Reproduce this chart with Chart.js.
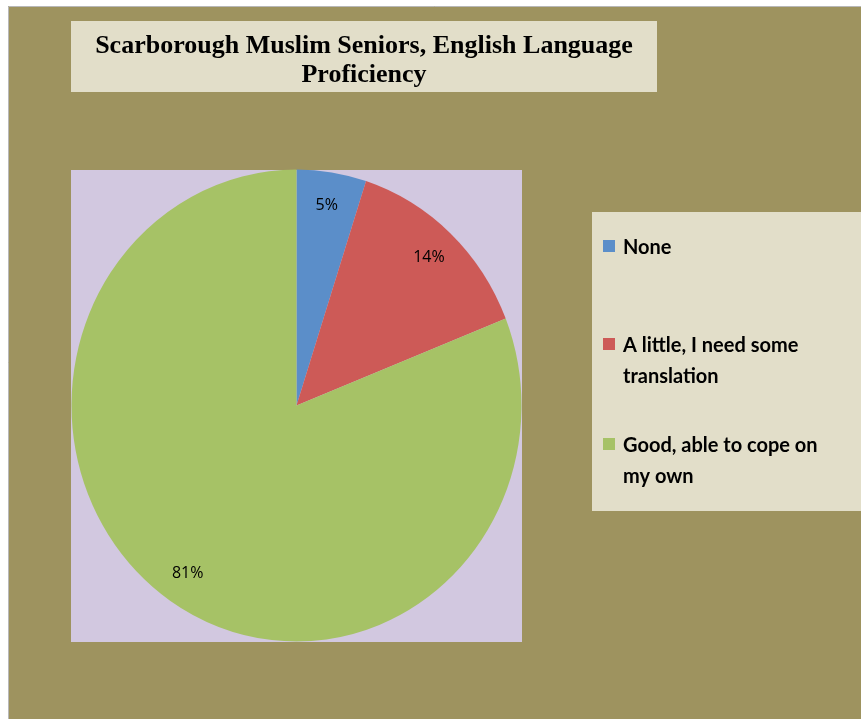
<!DOCTYPE html>
<html>
<head>
<meta charset="utf-8">
<script src="https://cdn.jsdelivr.net/npm/chart.js@4.4.1/dist/chart.umd.min.js"></script>
<style>
  html, body { margin: 0; padding: 0; background: #fff; }
  #wrap { width: 861px; height: 719px; }
</style>
</head>
<body>
<div id="wrap"><canvas id="pie" width="861" height="719"></canvas></div>
<script>
const titleLines = ["Scarborough Muslim Seniors, English Language", "Proficiency"];
const categories = ["None", "A little, I need some translation", "Good, able to cope on my own"];
const legendLines = [["None"], ["A little, I need some", "translation"], ["Good, able to cope on", "my own"]];
const shares = [5, 14, 81];
const sliceColors = ["#5b8ec9", "#cd5a57", "#a6c266"];

// the original pie is a little taller than wide
const stretchY = 236 / 225;

// boxes behind everything (frame, title, plot area, legend)
const backdrop = {
  id: "backdrop",
  beforeDraw(chart) {
    const c = chart.ctx;
    c.save();
    c.fillStyle = "#ffffff";
    c.fillRect(0, 0, 861, 719);
    c.fillStyle = "#9e935f";
    c.fillRect(8, 6, 853, 713);
    c.strokeStyle = "#b8b8b8";
    c.lineWidth = 1;
    c.beginPath();
    c.moveTo(8.5, 719);
    c.lineTo(8.5, 6.5);
    c.lineTo(861, 6.5);
    c.stroke();

    // title box
    c.fillStyle = "#e2dec9";
    c.fillRect(71, 21, 586, 71);
    c.fillStyle = "#000";
    c.font = "bold 26px 'Liberation Serif', serif";
    c.textAlign = "center";
    c.textBaseline = "alphabetic";
    c.fillText(titleLines[0], 364, 53, 578);
    c.fillText(titleLines[1], 364, 82);

    // plot area
    c.fillStyle = "#d2c8e0";
    c.fillRect(71, 170, 451, 472);

    // legend box
    c.fillStyle = "#e2dec9";
    c.fillRect(592, 212, 269, 299);
    const base = [254, 352, 452];
    c.textAlign = "left";
    c.font = "bold 20px Lato, sans-serif";
    legendLines.forEach((lines, i) => {
      c.fillStyle = sliceColors[i];
      c.fillRect(603, base[i] - 14, 12, 12);
      c.fillStyle = "#000";
      lines.forEach((t, j) => {
        c.fillText(t, 623, base[i] + j * 31, 212);
      });
    });
    c.restore();
  }
};

const stretch = {
  id: "stretch",
  beforeDatasetsDraw(chart) {
    const arc = chart.getDatasetMeta(0).data[0];
    const c = chart.ctx;
    c.save();
    c.translate(arc.x, arc.y);
    c.scale(1, stretchY);
    c.translate(-arc.x, -arc.y);
  },
  afterDatasetsDraw(chart) {
    chart.ctx.restore();
  }
};

// percentage labels inside slices
const sliceLabels = {
  id: "sliceLabels",
  afterDatasetsDraw(chart) {
    const c = chart.ctx;
    const meta = chart.getDatasetMeta(0);
    c.save();
    c.fillStyle = "#000";
    c.font = "16px 'Open Sans', sans-serif";
    c.textAlign = "center";
    c.textBaseline = "middle";
    meta.data.forEach((arc, i) => {
      const mid = (arc.startAngle + arc.endAngle) / 2;
      const r = arc.outerRadius * 0.86;
      const x = arc.x + Math.cos(mid) * r;
      const y = arc.y + Math.sin(mid) * r * stretchY;
      c.fillText(shares[i] + "%", x, y);
    });
    c.restore();
  }
};

new Chart(document.getElementById("pie"), {
  type: "pie",
  data: {
    labels: categories,
    datasets: [{
      data: shares,
      backgroundColor: sliceColors,
      borderWidth: 0,
    }],
  },
  options: {
    responsive: false,
    animation: false,
    layout: {
      padding: { left: 71.5, top: 180.5, right: 339.5, bottom: 88.5 },
    },
    plugins: {
      legend: { display: false },
      title: { display: false },
      tooltip: { enabled: false },
    },
  },
  plugins: [backdrop, stretch, sliceLabels],
});
</script>
</body>
</html>
